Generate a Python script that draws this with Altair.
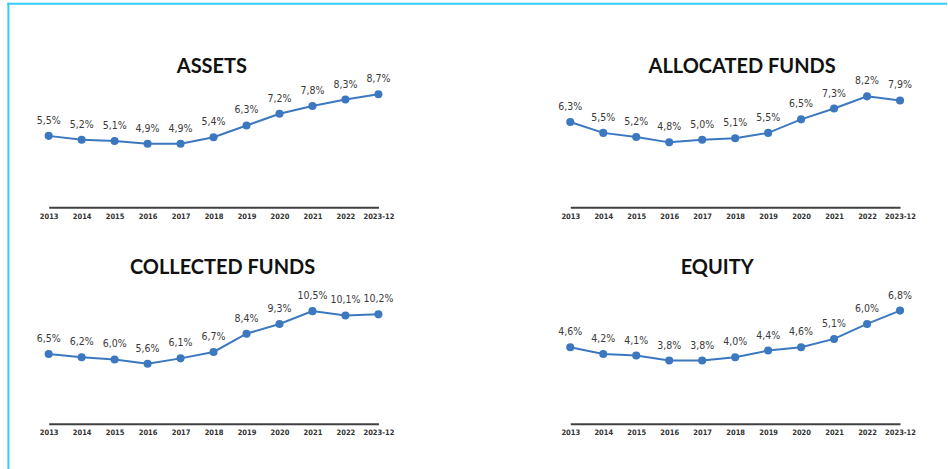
import altair as alt
import pandas as pd

periods = ["2013", "2014", "2015", "2016", "2017", "2018", "2019", "2020", "2021", "2022", "2023-12"]
assets = [5.5, 5.2, 5.1, 4.9, 4.9, 5.4, 6.3, 7.2, 7.8, 8.3, 8.7]
allocated = [6.3, 5.5, 5.2, 4.8, 5.0, 5.1, 5.5, 6.5, 7.3, 8.2, 7.9]
collected = [6.5, 6.2, 6.0, 5.6, 6.1, 6.7, 8.4, 9.3, 10.5, 10.1, 10.2]
equity = [4.6, 4.2, 4.1, 3.8, 3.8, 4.0, 4.4, 4.6, 5.1, 6.0, 6.8]

BLUE = "#3B78C0"
LABEL_FONT = "Liberation Sans Narrow, DejaVu Sans Condensed, sans-serif"
TITLE_FONT = "Lato, Open Sans, sans-serif"


def fmt(v):
    return f"{v:.1f}".replace(".", ",") + "%"


def panel(title, values, ymax, dx, offset, frame=False):
    df = pd.DataFrame({"period": periods, "value": values, "label": [fmt(v) for v in values]})
    base = alt.Chart(df).encode(
        x=alt.X(
            "period:O",
            sort=periods,
            scale=alt.Scale(type="point", padding=0),
            axis=alt.Axis(
                title=None,
                domainColor="#404040",
                domainWidth=2,
                ticks=False,
                grid=False,
                labelAngle=0,
                labelFont=LABEL_FONT,
                labelFontSize=7.5,
                labelFontWeight="bold",
                labelColor="#333333",
                labelPadding=5,
                labelOverlap=False,
                labelFlush=False,
            ),
        ),
        y=alt.Y("value:Q", scale=alt.Scale(domain=[0, ymax], nice=False, zero=True), axis=None),
    )
    line = base.mark_line(color=BLUE, strokeWidth=2)
    pts = base.mark_circle(color=BLUE, size=65, opacity=1)
    txt = base.mark_text(dy=-15, fontSize=10.5, font=LABEL_FONT, color="#3a3a3a").encode(text="label:N")
    ttl = alt.Chart(pd.DataFrame({"t": [title]})).mark_text(
        font=TITLE_FONT, fontSize=20, fontWeight="bold", color="#111111",
        align="center", baseline="alphabetic", clip=False,
    ).encode(text="t:N", x=alt.value(165 + dx), y=alt.value(-offset))
    layers = [line, pts, txt, ttl]
    if frame:
        fdf = pd.DataFrame({"k": [0]})
        left = alt.Chart(fdf).mark_rule(color="#33CCFF", strokeWidth=2, clip=False).encode(
            x=alt.value(-40.3), y=alt.value(-74.7), y2=alt.value(392)
        )
        top = alt.Chart(fdf).mark_rule(color="#33CCFF", strokeWidth=2, clip=False).encode(
            x=alt.value(-41.3), x2=alt.value(899), y=alt.value(-73.7)
        )
        layers = [left, top] + layers
    return alt.layer(*layers).properties(width=330, height=130)


p1 = panel("ASSETS", assets, 10.0, -1.7, 4, frame=True)
p2 = panel("ALLOCATED FUNDS", allocated, 9.6, 7, 4)
p3 = panel("COLLECTED FUNDS", collected, 12.1, 9, 20.4)
p4 = panel("EQUITY", equity, 7.8, -18, 20.4)

chart = (
    alt.concat(p1, p2, p3, p4, columns=2, spacing={"row": 86.7, "column": 192}, bounds="flush")
    .properties(padding={"left": 5.7, "top": 1.3, "right": 0, "bottom": 0}, background="white")
    .configure_view(stroke=None)
)

chart.save("out.html", embed_options={"renderer": "svg", "actions": False})
